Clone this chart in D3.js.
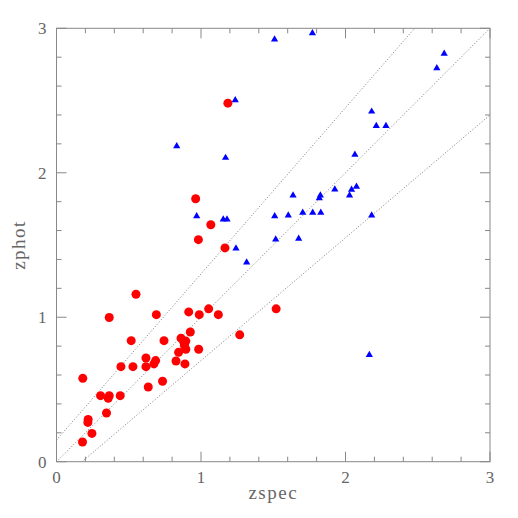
<!DOCTYPE html>
<html><head><meta charset="utf-8">
<script src="https://d3js.org/d3.v7.min.js"></script>
<style>html,body{margin:0;padding:0;background:#fff;}</style>
</head><body>
<svg id="chart" width="518" height="518"></svg>
<script>
const xTicks = [0, 1, 2, 3];
const yTicks = [0, 1, 2, 3];
const xLabel = "zspec";
const yLabel = "zphot";

const redZspec = [0.550,0.365,0.691,0.915,0.988,1.053,1.120,1.520,0.182,0.517,0.744,0.926,
  0.862,0.880,0.895,0.885,0.895,0.845,0.984,1.268,0.619,0.686,0.674,0.446,0.529,0.619,0.827,0.889,
  0.635,0.734,0.305,0.365,0.358,0.441,0.346,0.219,0.217,0.245,0.180,
  1.186,0.963,1.068,0.982,1.166];
const redZphot = [1.159,0.998,1.018,1.037,1.018,1.058,1.018,1.058,0.577,0.838,0.838,0.898,
  0.855,0.830,0.835,0.805,0.778,0.757,0.778,0.878,0.718,0.700,0.677,0.658,0.658,0.658,0.697,0.677,
  0.517,0.557,0.457,0.457,0.439,0.457,0.337,0.292,0.272,0.196,0.136,
  2.482,1.820,1.640,1.537,1.480];

const blueZspec = [1.509,1.771,2.683,2.632,2.181,2.213,2.280,2.065,1.637,1.826,1.819,1.926,2.028,2.042,2.076,
  1.510,1.604,1.704,1.773,1.829,2.181,1.517,1.676,2.165,1.237,0.832,1.170,0.970,1.154,1.180,1.242,1.316];
const blueZphot = [2.926,2.968,2.827,2.726,2.426,2.327,2.327,2.127,1.846,1.846,1.827,1.887,1.846,1.885,1.906,
  1.702,1.707,1.726,1.726,1.726,1.707,1.541,1.546,0.741,2.505,2.187,2.106,1.702,1.680,1.680,1.479,1.382];

const lineOffsets = [0.15, 0, -0.15];

const svg = d3.select("#chart");
const L = 56.5, R = 490, T = 28.3, B = 461.7;
const x = d3.scaleLinear().domain([0, 3]).range([L, R]);
const y = d3.scaleLinear().domain([0, 3]).range([B, T]);
const frameColor = "#888";
const textColor = "#666";
const font = "'Liberation Serif', 'DejaVu Serif', serif";

svg.append("clipPath").attr("id","clip").append("rect")
  .attr("x", L).attr("y", T).attr("width", R-L).attr("height", B-T);
const g = svg.append("g").attr("clip-path","url(#clip)");
lineOffsets.forEach(k => {
  const xs = d3.range(0, 3.0001, 0.05);
  const line = d3.line().x(d => x(d)).y(d => y(d + k*(1+d)));
  g.append("path").datum(xs).attr("d", line)
    .attr("fill","none").attr("stroke", "#777")
    .attr("stroke-width",1).attr("stroke-dasharray","1,2");
});

svg.append("rect").attr("x",L).attr("y",T).attr("width",R-L).attr("height",B-T)
  .attr("fill","none").attr("stroke",frameColor).attr("stroke-width",1);

const minor = d3.range(0, 3.0001, 0.2).map(v => Math.round(v*10)/10);
const isMajor = v => Math.abs(v - Math.round(v)) < 1e-6;
const tg = svg.append("g").attr("stroke", frameColor).attr("stroke-width",1);
minor.forEach(v => {
  const len = isMajor(v) ? 10 : 5;
  tg.append("line").attr("x1",x(v)).attr("x2",x(v)).attr("y1",B).attr("y2",B-len);
  tg.append("line").attr("x1",x(v)).attr("x2",x(v)).attr("y1",T).attr("y2",T+len);
  tg.append("line").attr("y1",y(v)).attr("y2",y(v)).attr("x1",L).attr("x2",L+len);
  tg.append("line").attr("y1",y(v)).attr("y2",y(v)).attr("x1",R).attr("x2",R-len);
});

xTicks.forEach(v => {
  svg.append("text").attr("x", x(v)).attr("y", B+21).attr("text-anchor","middle")
    .style("font-family",font).attr("font-size",17).attr("fill",textColor).text(v);
});
yTicks.forEach(v => {
  svg.append("text").attr("x", L-10).attr("y", y(v)+6).attr("text-anchor","end")
    .style("font-family",font).attr("font-size",17).attr("fill",textColor).text(v);
});

svg.append("text").attr("x",(L+R)/2).attr("y",499).attr("text-anchor","middle")
  .style("font-family",font).attr("font-size",19).attr("fill",textColor)
  .attr("letter-spacing","1.5").text(xLabel);
svg.append("text").attr("transform",`translate(25,${(T+B)/2}) rotate(-90)`)
  .attr("text-anchor","middle")
  .style("font-family",font).attr("font-size",19).attr("fill",textColor)
  .attr("letter-spacing","1.5").text(yLabel);

svg.append("g").selectAll("circle").data(redZspec.map((v,i)=>[v, redZphot[i]]))
  .join("circle").attr("cx",d=>x(d[0])).attr("cy",d=>y(d[1])).attr("r",4.5).attr("fill","#ff0000");

const tri = "M0,-3.8L3.6,2.4L-3.6,2.4Z";
svg.append("g").selectAll("path").data(blueZspec.map((v,i)=>[v, blueZphot[i]]))
  .join("path").attr("d",tri).attr("transform",d=>`translate(${x(d[0])},${y(d[1])})`)
  .attr("fill","#0000ff");
</script>
</body></html>
